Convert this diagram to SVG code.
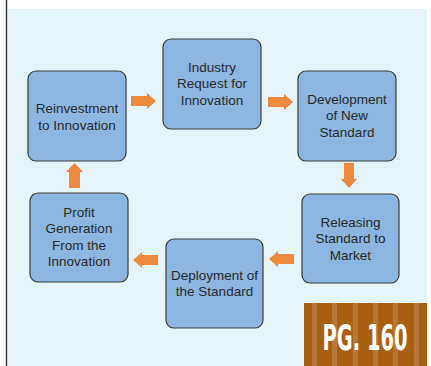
<svg xmlns="http://www.w3.org/2000/svg" width="431" height="366" viewBox="0 0 431 366">
<style>
.node rect{fill:#8AB6E1;stroke:#3b3b3b;stroke-width:1.2}
.node text{font-family:"Liberation Sans",Arial,sans-serif;font-size:13.5px;fill:#2b2b2b;text-anchor:middle}
.arrow{fill:#EE8A3E}
</style>
<rect x="0" y="0" width="431" height="366" fill="#ffffff"/>
<rect x="8" y="9" width="419" height="357" fill="#E5F4F9"/>
<line x1="6.5" y1="0" x2="6.5" y2="366" stroke="#3a3a3a" stroke-width="1.5"/>
<g id="connectors">
<path class="arrow" d="M131,96 H147 V93 L156,101 L147,109 V106 H131 Z"/>
<path class="arrow" d="M268,97 H284 V94 L293,102 L284,110 V107 H268 Z"/>
<path class="arrow" d="M344,163 V179 H341 L349,188 L357,179 H354 V163 Z"/>
<path class="arrow" d="M294,254 H278 V251 L269,259 L278,267 V264 H294 Z"/>
<path class="arrow" d="M158,255 H142 V252 L133,260 L142,268 V265 H158 Z"/>
<path class="arrow" d="M69,188 V172 H66 L74.5,163 L83,172 H80 V188 Z"/>
</g>
<g id="n1" class="node">
<rect x="28" y="71" width="98" height="90" rx="8"/>
<text x="77" y="112.5">Reinvestment</text>
<text x="77" y="129.5">to Innovation</text>
</g>
<g id="n2" class="node">
<rect x="163" y="39" width="98" height="90" rx="8"/>
<text x="212" y="71.5">Industry</text>
<text x="212" y="88">Request for</text>
<text x="212" y="104.5">Innovation</text>
</g>
<g id="n3" class="node">
<rect x="298" y="71" width="98" height="90" rx="8"/>
<text x="347" y="103.5">Development</text>
<text x="347" y="120">of New</text>
<text x="347" y="136.5">Standard</text>
</g>
<g id="n4" class="node">
<rect x="302" y="194" width="97" height="89" rx="8"/>
<text x="350.5" y="226.5">Releasing</text>
<text x="350.5" y="243">Standard to</text>
<text x="350.5" y="259.5">Market</text>
</g>
<g id="n5" class="node">
<rect x="166" y="239" width="97" height="89" rx="8"/>
<text x="214.5" y="279.5">Deployment of</text>
<text x="214.5" y="296">the Standard</text>
</g>
<g id="n6" class="node">
<rect x="30" y="193" width="98" height="89" rx="8"/>
<text x="79" y="216.5">Profit</text>
<text x="79" y="233">Generation</text>
<text x="79" y="249.5">From the</text>
<text x="79" y="266">Innovation</text>
</g>
<g id="badge">
<rect x="304" y="303" width="123" height="63" fill="#A95F10"/>
<g fill="#B6793A">
<rect x="312" y="303" width="5" height="63"/>
<rect x="332" y="303" width="5" height="63"/>
<rect x="353" y="303" width="5" height="63"/>
<rect x="373" y="303" width="5" height="63"/>
<rect x="393" y="303" width="5" height="63"/>
<rect x="414" y="303" width="5" height="63"/>
</g>
<text transform="translate(365,350) scale(0.6,1)" x="0" y="0" text-anchor="middle" font-family="'DejaVu Sans Condensed','DejaVu Sans',sans-serif" font-weight="bold" font-size="36" fill="#ffffff">PG. 160</text>
</g>
</svg>
